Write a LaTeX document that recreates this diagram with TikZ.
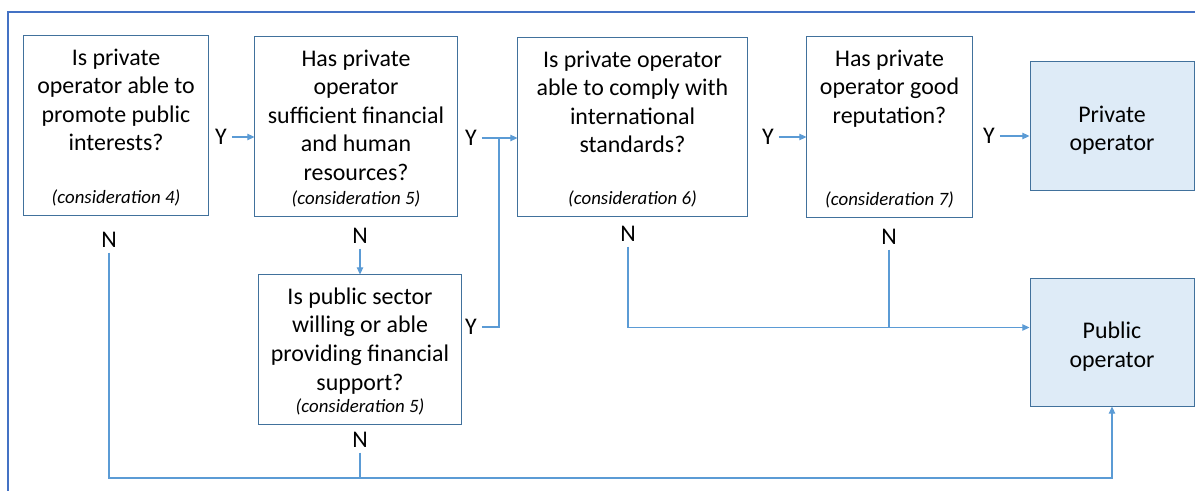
\documentclass[tikz,border=0pt]{standalone}
\usepackage{fontspec}
\setmainfont{Carlito}
\usetikzlibrary{arrows.meta, positioning, calc}
\definecolor{framecolor}{HTML}{4472C4}
\definecolor{boxline}{HTML}{41719C}
\definecolor{linkcolor}{HTML}{5B9BD5}
\definecolor{outfill}{HTML}{DEEBF7}

\begin{document}
\begin{tikzpicture}[
    x=0.025cm, y=-0.025cm,
    qbox/.style={rectangle, draw=boxline, line width=0.7pt, fill=white, inner sep=0pt},
    outbox/.style={qbox, fill=outfill},
    qtext/.style={align=center, inner sep=0pt, anchor=north, font=\fontsize{17}{20.3}\selectfont},
    otext/.style={qtext, anchor=center},
    note/.style={inner sep=0pt, font=\fontsize{13.4}{15}\selectfont\itshape},
    yn/.style={font=\fontsize{17}{20.3}\selectfont},
    link/.style={draw=linkcolor, line width=0.75pt},
    arr/.style={link, -{Triangle[length=5pt, width=4.5pt]}},
]
\useasboundingbox (0,0) rectangle (1195,491);

% Frame
\draw[framecolor, line width=1.7pt] (8,491) -- (8,12) -- (1195,12);

% Question boxes
\node[qbox, minimum width=4.6cm, minimum height=4.475cm] (promote) at (116,125.5) {};
\node[qbox, minimum width=5.05cm, minimum height=4.475cm] (resources) at (356,126.5) {};
\node[qbox, minimum width=5.725cm, minimum height=4.45cm] (standards) at (632.5,127) {};
\node[qbox, minimum width=4.125cm, minimum height=4.5cm] (reputation) at (889.5,127) {};
\node[qbox, minimum width=5.05cm, minimum height=3.725cm] (support) at (360,349.5) {};

% Outcomes
\node[outbox, minimum width=4.1cm, minimum height=3.2cm] (privop) at (1112,126) {};
\node[outbox, minimum width=4.1cm, minimum height=3.175cm] (pubop) at (1112,342.5) {};
\node[otext] (pt) at ($(privop.center)+(0,4)$) {Private\\operator};
\node[otext] (ut) at ($(pubop.center)+(0,4)$) {Public\\operator};

% Questions
\node[qtext] (t1) at ($(promote.north)+(0,13)$) {Is private\\operator able to\\promote public\\interests?};
\node[qtext] (t2) at ($(resources.north)+(0,13)$) {Has private\\operator\\sufficient financial\\and human\\resources?};
\node[qtext] (t3) at ($(standards.north)+(0,13)$) {Is private operator\\able to comply with\\international\\standards?};
\node[qtext] (t4) at ($(reputation.north)+(0,13)$) {Has private\\operator good\\reputation?};
\node[qtext] (t5) at ($(support.north)+(0,13)$) {Is public sector\\willing or able\\providing financial\\support?};

% Considerations
\node[note] (c1) at ($(promote.south)+(0,-18)$) {(consideration 4)};
\node[note] (c2) at ($(resources.south)+(0,-18)$) {(consideration 5)};
\node[note] (c3) at ($(standards.south)+(0,-18)$) {(consideration 6)};
\node[note] (c4) at ($(reputation.south)+(0,-18)$) {(consideration 7)};
\node[note] (c5) at ($(support.south)+(0,-18)$) {(consideration 5)};

% Yes / No labels
\node[yn] (y1) at (221,137) {Y};
\node[yn] (y2) at (471,138) {Y};
\node[yn] (y3) at (768,137) {Y};
\node[yn] (y4) at (989,136) {Y};
\node[yn] (y5) at (471,327) {Y};
\node[yn] (n1) at (109,240) {N};
\node[yn] (n2) at (360,236) {N};
\node[yn] (n3) at (628,234) {N};
\node[yn] (n4) at (889,237) {N};
\node[yn] (n5) at (360,440) {N};

% Helper points
\coordinate (join) at (499,138);
\coordinate (pubin) at ($(pubop.west)+(0,-15)$);
\coordinate (base) at (0,478);

% Connectors
\draw[arr] (y1.east) -- (y1.east -| resources.west);
\draw[arr] (y2.east) -- (y2.east -| standards.west);
\draw[link] (y5.east) -| (join);
\draw[arr] (y3.east) -- (y3.east -| reputation.west);
\draw[arr] (y4.east) -- (y4.east -| privop.west);
\draw[arr] (n2.south) -- (support.north);
\draw[arr] (n3.south) |- (pubin);
\draw[link] (n4.south) -- (n4.south |- pubin);
\draw[arr] (n1.south) -- (n1.south |- base) -| (pubop.south);
\draw[link] (n5.south) -- (n5.south |- base);

\end{tikzpicture}
\end{document}
